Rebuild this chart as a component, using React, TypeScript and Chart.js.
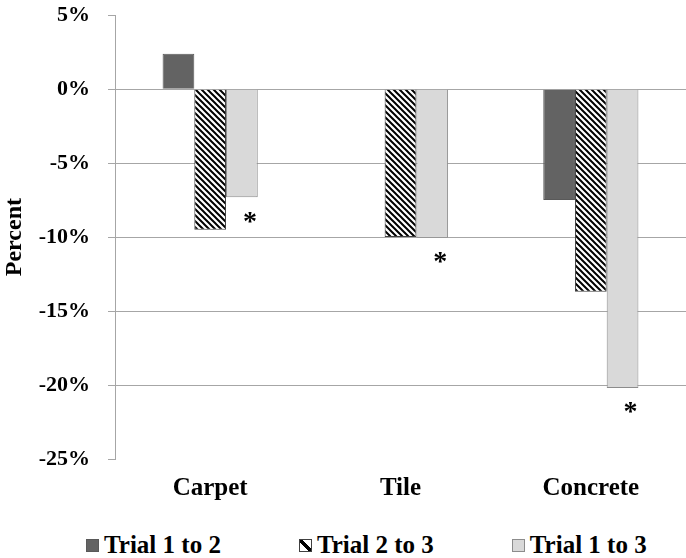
import { useEffect, useRef } from "react"
import { Chart, registerables } from "chart.js"

Chart.register(...registerables)

const categories = ["Carpet", "Tile", "Concrete"]
const seriesNames = ["Trial 1 to 2", "Trial 2 to 3", "Trial 1 to 3"]
const trial12 = [2.4, null, -7.5]
const trial23 = [-9.5, -10.0, -13.7]
const trial13 = [-7.3, -10.05, -20.2]
// asterisk marks under the "Trial 1 to 3" bars
const significant13 = [true, true, true]
const yTicks = [5, 0, -5, -10, -15, -20, -25]

const SERIF = '"Times New Roman", "Liberation Serif", serif'
const GRID = "#a6a6a6"

function makeHatch() {
  const c = document.createElement("canvas")
  c.width = 6
  c.height = 6
  const g = c.getContext("2d")!
  g.fillStyle = "#ffffff"
  g.fillRect(0, 0, 6, 6)
  g.strokeStyle = "#000000"
  g.lineWidth = 2
  g.beginPath()
  for (let k = -1; k <= 1; k++) {
    g.moveTo(k * 6 - 1, -1)
    g.lineTo(k * 6 + 7, 7)
  }
  g.stroke()
  return g.createPattern(c, "repeat")!
}

const asteriskPlugin = {
  id: "asterisks",
  afterDatasetsDraw(chart: any) {
    const meta = chart.getDatasetMeta(2)
    const ctx = chart.ctx
    ctx.save()
    ctx.font = `bold 28px ${SERIF}`
    ctx.fillStyle = "#000"
    ctx.textAlign = "center"
    ctx.textBaseline = "alphabetic"
    const m = ctx.measureText("*")
    const mid = (m.actualBoundingBoxAscent - m.actualBoundingBoxDescent) / 2
    meta.data.forEach((bar: any, i: number) => {
      if (!significant13[i]) return
      const { x, y } = bar.getProps(["x", "y"], true)
      ctx.fillText("*", x + 8, y + 20 + mid)
    })
    ctx.restore()
  },
}

const legendBoxes = [
  { background: "#636363", border: "#595959" },
  {
    background: "linear-gradient(45deg, #fff 40%, #000 40%, #000 60%, #fff 60%)",
    border: "#404040",
  },
  { background: "#d9d9d9", border: "#8c8c8c" },
]

export default function App() {
  const chartRef = useRef<HTMLCanvasElement>(null)
  const chartInstance = useRef<Chart | null>(null)

  useEffect(() => {
    if (!chartRef.current) return
    if (chartInstance.current) chartInstance.current.destroy()

    const ctx = chartRef.current.getContext("2d")
    if (!ctx) return

    chartInstance.current = new Chart(ctx, {
      type: "bar",
      data: {
        labels: categories,
        datasets: [
          {
            label: seriesNames[0],
            data: trial12,
            backgroundColor: "#636363",
            borderColor: "#595959",
            borderWidth: 1,
          },
          {
            label: seriesNames[1],
            data: trial23,
            backgroundColor: makeHatch(),
            borderColor: "#404040",
            borderWidth: 1,
          },
          {
            label: seriesNames[2],
            data: trial13,
            backgroundColor: "#d9d9d9",
            borderColor: "#8c8c8c",
            borderWidth: 1,
          },
        ],
      },
      options: {
        responsive: true,
        maintainAspectRatio: false,
        animation: false,
        layout: { padding: { top: 14, right: 0, left: 0, bottom: 0 } },
        datasets: {
          bar: { categoryPercentage: 0.5, barPercentage: 1.0 },
        },
        plugins: {
          legend: { display: false },
          tooltip: { enabled: false },
        },
        scales: {
          x: {
            grid: { display: false },
            border: { display: false },
            ticks: {
              color: "#000",
              padding: 7,
              font: { family: SERIF, size: 25, weight: "bold" },
            },
          },
          y: {
            min: Math.min(...yTicks),
            max: Math.max(...yTicks),
            afterFit: (scale: any) => {
              scale.width = 115
            },
            ticks: {
              stepSize: 5,
              color: "#000",
              padding: 18,
              font: { family: SERIF, size: 22, weight: "bold" },
              callback: (v: any) => `${v}%`,
            },
            grid: {
              color: (c: any) =>
                c.tick && (c.tick.value === yTicks[0] || c.tick.value === yTicks[yTicks.length - 1])
                  ? "rgba(0,0,0,0)"
                  : GRID,
              tickColor: GRID,
              tickLength: 7,
              lineWidth: 1,
            },
            border: { display: true, color: GRID, width: 1 },
            title: {
              display: true,
              text: "Percent",
              color: "#000",
              padding: { top: 0, bottom: 0 },
              font: { family: SERIF, size: 24, weight: "bold" },
            },
          },
        },
      },
      plugins: [asteriskPlugin],
    })

    return () => {
      if (chartInstance.current) {
        chartInstance.current.destroy()
        chartInstance.current = null
      }
    }
  }, [])

  return (
    <div
      style={{
        position: "absolute",
        left: 0,
        top: 0,
        width: 686,
        height: 558,
        background: "#fff",
        fontFamily: SERIF,
        overflow: "hidden",
      }}
    >
      <div style={{ position: "absolute", left: 0, top: -16, width: 686, height: 527 }}>
        <canvas ref={chartRef} />
      </div>
      <div
        style={{
          position: "absolute",
          left: 0,
          top: 530,
          width: 686,
          height: 30,
          display: "flex",
          alignItems: "center",
          paddingLeft: 86,
          boxSizing: "border-box",
          columnGap: 78,
        }}
      >
        {seriesNames.map((name, i) => (
          <div key={name} style={{ display: "flex", alignItems: "center" }}>
            <span
              style={{
                display: "inline-block",
                width: 11,
                height: 11,
                background: legendBoxes[i].background,
                border: `1px solid ${legendBoxes[i].border}`,
                marginRight: 5,
              }}
            />
            <span style={{ fontSize: 25, fontWeight: "bold", color: "#000", lineHeight: "30px" }}>
              {name}
            </span>
          </div>
        ))}
      </div>
    </div>
  )
}
